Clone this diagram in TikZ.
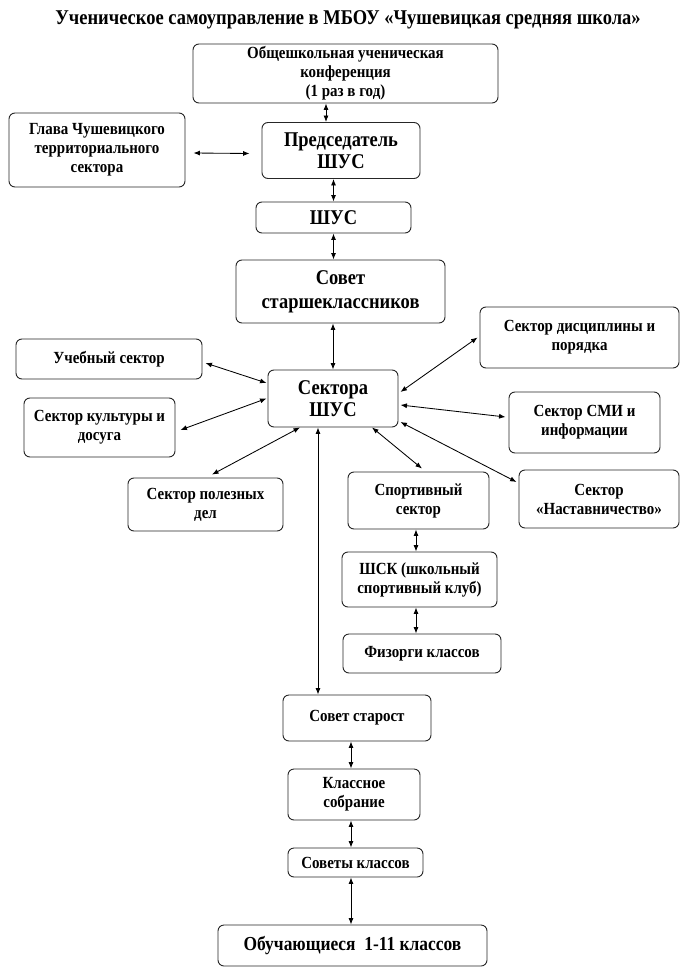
\documentclass[tikz,border=0pt]{standalone}
\usepackage{fontspec}
\setmainfont[FakeStretch=0.88]{Liberation Serif}
\usetikzlibrary{arrows.meta}
\begin{document}
\begin{tikzpicture}[x=1pt,y=-1pt,
  box/.style={draw=black!85, line width=0.9pt, rounded corners=6pt, align=center, inner sep=0pt,
              font=\bfseries\fontsize{17}{19}\selectfont},
  big/.style={font=\bfseries\fontsize{21}{22}\selectfont},
  arr/.style={{Latex[length=6.5pt,width=5pt]}-{Latex[length=6.5pt,width=5pt]}, line width=0.85pt, black}
]
\useasboundingbox[fill=white] (0,0) rectangle (680,968);

\node[font=\bfseries\fontsize{21}{22}\selectfont, inner sep=0pt] (title) at (348,20)
  {Ученическое самоуправление в МБОУ «Чушевицкая средняя школа»};

\node[box, minimum width=305pt, minimum height=59pt] (conf) at (345.5,73.5)
  {Общешкольная ученическая\\конференция\\(1 раз в год)};
\node[box, minimum width=176pt, minimum height=74pt] (glava) at (97,150)
  {Глава Чушевицкого\\территориального\\сектора};
\node[box, big, minimum width=158pt, minimum height=56pt] (pred) at (341,150.5)
  {Председатель\\ШУС};
\node[box, big, minimum width=155pt, minimum height=31pt] (shus) at (333.5,217.5) {ШУС};
\node[box, font=\bfseries\fontsize{21}{24}\selectfont, minimum width=209pt, minimum height=63pt] (sovet) at (340.5,291.5)
  {Совет\\старшеклассников};
\node[box, minimum width=199pt, minimum height=61pt] (disc) at (579.5,337.5)
  {Сектор дисциплины и\\порядка};
\node[box, minimum width=186pt, minimum height=40pt] (ucheb) at (109,359) {Учебный сектор};
\node[box, big, minimum width=130pt, minimum height=57pt] (sektora) at (333,398.5)
  {Сектора\\ШУС};
\node[box, minimum width=151pt, minimum height=59pt] (kult) at (99.5,427.5)
  {Сектор культуры и\\досуга};
\node[box, minimum width=151pt, minimum height=61pt] (smi) at (584.5,422.5)
  {Сектор СМИ и\\информации};
\node[box, minimum width=155pt, minimum height=53pt] (polez) at (205.5,504.5)
  {Сектор полезных\\дел};
\node[box, minimum width=141pt, minimum height=57pt] (sport) at (418.5,500.5)
  {Спортивный\\сектор};
\node[box, minimum width=160pt, minimum height=58pt] (nastav) at (599,499)
  {Сектор\\«Наставничество»};
\node[box, minimum width=155pt, minimum height=55pt] (shsk) at (419.5,579.5)
  {ШСК (школьный\\спортивный клуб)};
\node[box, minimum width=158pt, minimum height=39pt] (fizorg) at (422,653.5) {Физорги классов};
\node[box, minimum width=148pt, minimum height=46pt] (starost) at (357,718) {Совет старост};
\node[box, minimum width=132pt, minimum height=51pt] (sobr) at (354,794.5)
  {Классное\\собрание};
\node[box, minimum width=135pt, minimum height=29pt] (sovkl) at (355.5,862.5) {Советы классов};
\node[box, font=\bfseries\fontsize{19.8}{22}\selectfont, minimum width=269pt, minimum height=41pt] (obuch) at (352.5,945.5)
  {Обучающиеся\ \ 1-11 классов};

% vertical chain at top
\draw[arr] ([xshift=-19.5pt]conf.south) -- ([xshift=-15pt]pred.north);
\draw[arr] (pred.south -| shus.north) -- (shus.north);
\draw[arr] (shus.south) -- (sovet.north -| shus.south);
\draw[arr] (sovet.south -| sektora.north) -- (sektora.north);
% Glava <-> Predsedatel (free arrow)
\coordinate (ga) at ([shift={(8,3)}]glava.east);
\coordinate (gb) at ([shift={(-12,3)}]pred.west);
\draw[arr] (ga) -- (gb);

% spokes around Sektora SHUS
\draw[arr] ([shift={(3,4)}]ucheb.east) -- ([shift={(-1,-15.5)}]sektora.west);
\draw[arr] ([shift={(5,2.5)}]kult.east) -- ([shift={(-1,0)}]sektora.west);
\draw[arr] ([shift={(6.5,-3)}]polez.north) -- ([xshift=-33pt]sektora.south);
\draw[arr] ([xshift=39pt]sektora.south) -- ([shift={(3.5,-3)}]sport.north);
\draw[arr] ([shift={(2,-6.5)}]sektora.east) -- ([shift={(-2,0)}]disc.west);
\draw[arr] ([shift={(2,6.5)}]sektora.east) -- ([shift={(-3,-5.5)}]smi.west);
\draw[arr] ([shift={(2,23.5)}]sektora.east) -- ([shift={(-2,-17)}]nastav.west);
\draw[arr] ([xshift=-15pt]sektora.south) -- ([xshift=-39pt]starost.north);

% sport chain
\draw[arr] ([xshift=-2.5pt]sport.south) -- ([xshift=-3.5pt]shsk.north);
\draw[arr] ([xshift=-3.5pt]shsk.south) -- ([xshift=-6pt]fizorg.north);

% bottom chain
\draw[arr] ([xshift=-6pt]starost.south) -- ([xshift=-3pt]sobr.north);
\draw[arr] ([xshift=-3pt]sobr.south) -- ([xshift=-4.5pt]sovkl.north);
\draw[arr] ([xshift=-4.5pt]sovkl.south) -- ([xshift=-1.5pt]obuch.north);
\end{tikzpicture}
\end{document}
